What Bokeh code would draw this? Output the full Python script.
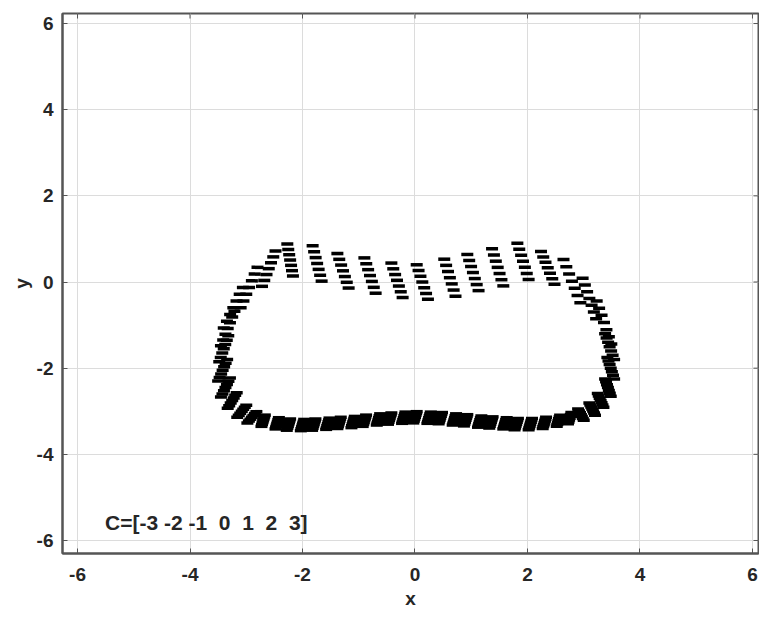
from bokeh.plotting import figure
from bokeh.models import FixedTicker, Range1d, Label
from bokeh.embed import file_html
from bokeh.resources import INLINE
import numpy as np

# ---- data ----
C = [-3, -2, -1, 0, 1, 2, 3]
ticks = [-6, -4, -2, 0, 2, 4, 6]
tick_labels = ["-6", "-4", "-2", "0", "2", "4", "6"]
x_lim = (-6.267, 6.107)
y_lim = (-6.302, 6.233)

# centre of the band of curves at each sampled mark position
xc = [-3.23, -2.95, -2.60, -2.22, -1.74, -1.28, -0.80, -0.32, 0.13, 0.62, 1.03,
      1.47, 1.92, 2.36, 2.79, 3.10, 3.36, 3.46, 3.48, 3.43, 3.30, 3.15, 2.95,
      2.75, 2.55, 2.30, 2.05, 1.80, 1.60, 1.35, 1.15, 0.90, 0.70, 0.45, 0.25, 0.00,
      -0.20, -0.45, -0.65, -0.90, -1.10, -1.35, -1.55, -1.80, -2.00, -2.25, -2.45, -2.70,
      -2.90, -3.08, -3.25, -3.37, -3.42, -3.40, -3.33]
yc = [-0.60, -0.13, 0.31, 0.51, 0.43, 0.26, 0.15, 0.04, 0.00, 0.10, 0.22,
      0.34, 0.48, 0.33, 0.02, -0.38, -0.94, -1.50, -2.00, -2.45, -2.75, -2.95, -3.08,
      -3.16, -3.22, -3.27, -3.30, -3.30, -3.28, -3.26, -3.24, -3.21, -3.19, -3.16, -3.15, -3.14,
      -3.15, -3.17, -3.19, -3.22, -3.25, -3.27, -3.29, -3.31, -3.32, -3.31, -3.28, -3.22,
      -3.14, -3.00, -2.75, -2.45, -2.05, -1.55, -1.08]
# spread of the curves (C = 3 minus centre) at each position
ox = [0.17, 0.15, 0.12, -0.05, -0.08, -0.10, -0.10, -0.10, -0.10, -0.10, -0.10,
      -0.10, -0.10, -0.12, -0.15, -0.12, -0.13, -0.08, -0.06, -0.05, -0.05, -0.05, -0.05,
      0.03, 0.03, 0.03, 0.03, 0.03, 0.03, 0.03, 0.03, 0.03, 0.03, 0.03, 0.03, 0.03,
      0.03, 0.03, 0.03, 0.03, 0.03, 0.03, 0.03, 0.03, 0.03, 0.03, 0.03, 0.03,
      0.08, 0.08, 0.08, 0.08, 0.08, 0.08, 0.12]
oy = [0.47, 0.47, 0.41, 0.37, 0.41, 0.40, 0.41, 0.40, 0.40, 0.43, 0.42,
      0.43, 0.42, 0.38, 0.50, 0.47, 0.50, 0.30, 0.25, 0.20, 0.16, 0.14, 0.13,
      0.13, 0.13, 0.13, 0.13, 0.13, 0.13, 0.13, 0.13, 0.13, 0.13, 0.13, 0.13, 0.13,
      0.13, 0.13, 0.13, 0.13, 0.13, 0.13, 0.13, 0.13, 0.13, 0.13, 0.13, 0.13,
      0.13, 0.14, 0.18, 0.22, 0.25, 0.30, 0.40]

label_text = "C=[-3 -2 -1\u00a0\u00a00\u00a0\u00a01\u00a0\u00a02\u00a0\u00a03]"

p = figure(width=759, height=611, output_backend="svg", toolbar_location=None,
           x_range=Range1d(*x_lim), y_range=Range1d(*y_lim),
           min_border_left=62, min_border_top=13, min_border_right=1, min_border_bottom=10)

xc_a, yc_a, ox_a, oy_a = map(np.array, (xc, yc, ox, oy))
for c in C:
    f = c / 3.0
    p.scatter(xc_a + f * ox_a, yc_a + f * oy_a, marker="dash", size=12,
              line_width=3.5, line_color="black")

p.add_layout(Label(x=-5.51, y=-5.58, text=label_text, text_align="left",
                   text_baseline="middle", text_font="Liberation Sans",
                   text_font_size="21px", text_font_style="bold", text_color="#262626"))

tk = FixedTicker(ticks=ticks)
overrides = dict(zip(ticks, tick_labels))
for ax in (p.xaxis[0], p.yaxis[0]):
    ax.ticker = tk
    ax.major_label_overrides = overrides
    ax.major_tick_in = 5
    ax.major_tick_out = 0
    ax.minor_tick_line_color = None
    ax.axis_line_color = "#555555"
    ax.axis_line_width = 2
    ax.major_tick_line_color = "#555555"
    ax.major_label_text_font = "Liberation Sans"
    ax.major_label_text_font_size = "19px"
    ax.major_label_text_font_style = "bold"
    ax.major_label_text_color = "#262626"
    ax.axis_label_text_font = "Liberation Sans"
    ax.axis_label_text_font_size = "19px"
    ax.axis_label_text_font_style = "bold"
    ax.axis_label_text_color = "#262626"
p.xaxis.axis_label = "x"
p.yaxis.axis_label = "y"
p.xaxis.major_label_standoff = 14
p.yaxis.major_label_standoff = 9
p.xaxis.axis_label_standoff = 4
p.yaxis.axis_label_standoff = 2

# inward ticks on the top and right edges of the frame
p.scatter(ticks, [y_lim[1]] * len(ticks), marker="dash", angle=np.pi / 2, size=10,
          line_color="#555555", line_width=1)
p.scatter([x_lim[1]] * len(ticks), ticks, marker="dash", size=10,
          line_color="#555555", line_width=1)

p.xgrid.ticker = tk
p.ygrid.ticker = tk
p.grid.grid_line_color = "#dcdcdc"
p.grid.grid_line_width = 1
p.outline_line_color = "#555555"
p.outline_line_width = 2

open("out.html", "w").write(file_html(p, INLINE))
